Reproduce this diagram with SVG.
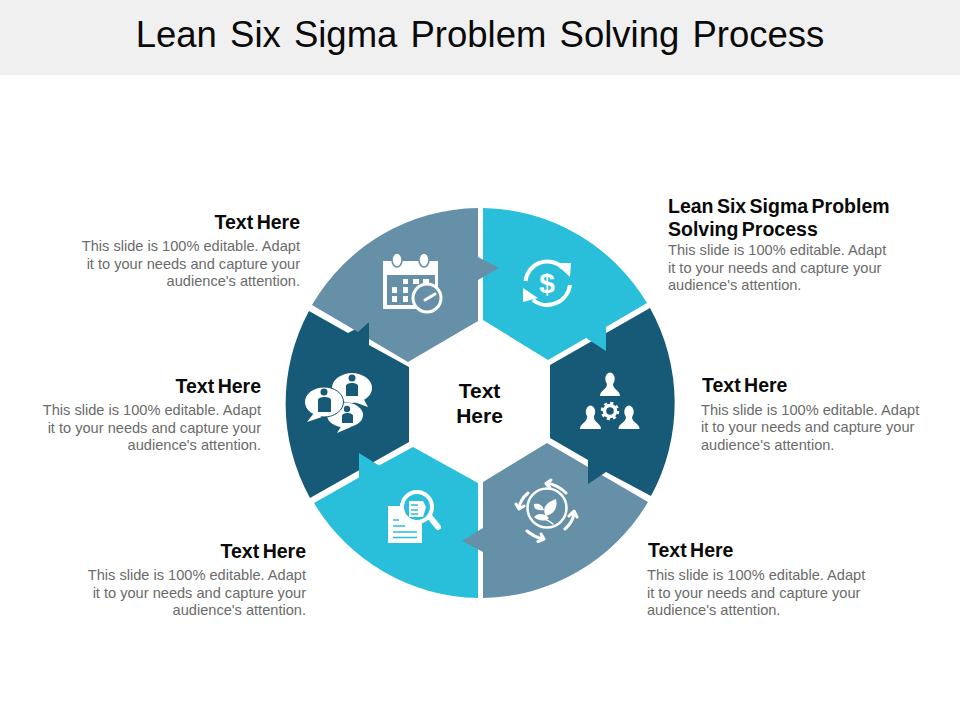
<svg xmlns="http://www.w3.org/2000/svg" width="960" height="720" viewBox="0 0 960 720">
<style>
.f{font-family:"Liberation Sans",Arial,sans-serif}
.h{font:bold 19.5px "Liberation Sans",Arial,sans-serif;fill:#0a0a0a;word-spacing:-2px}
.c{font:bold 21px "Liberation Sans",Arial,sans-serif;fill:#0a0a0a;text-anchor:middle}
.b{font:14.6px "Liberation Sans",Arial,sans-serif;fill:#6b6b6b}
.e{text-anchor:end}
.w{fill:#fff}
.sw{fill:none;stroke:#fff;stroke-width:3;stroke-linecap:round;stroke-linejoin:round}
</style>
<rect width="960" height="75" fill="#f0f0f0"/>
<text x="480" y="47" text-anchor="middle" class="f" font-size="36.500" fill="#0a0a0a" word-spacing="3">Lean Six Sigma Problem Solving Process</text>
<g id="connectors"/>
<g id="node-chat">
<path fill="#175a78" d="M309 311L348 333L369 322V345L409 367V442L310 498A195 195 0 0 1 309 311Z"/>
<ellipse cx="352" cy="388" rx="20" ry="15" class="w"/>
<path class="w" d="M362 396L368 407L354 402Z"/>
<ellipse cx="345" cy="415" rx="18" ry="12.500" class="w"/>
<path class="w" d="M342 425L337 433L351 427Z"/>
<ellipse cx="324" cy="402" rx="19.500" ry="15" class="w" stroke="#175a78" stroke-width="1"/>
<path class="w" d="M314 413L307 422L322 417Z"/>
<circle cx="352" cy="378" r="3.500" fill="#175a78"/>
<path fill="#175a78" d="M346 396V386C346 382 358 382 358 386V396Z"/>
<circle cx="324" cy="392" r="3.500" fill="#175a78"/>
<path fill="#175a78" d="M318 412V400C318 396 331 396 331 400V412Z"/>
<circle cx="347" cy="409" r="3.200" fill="#175a78"/>
<path fill="#175a78" d="M342 423V416C342 412 353 412 353 416V423Z"/>
</g>
<g id="node-doc">
<path fill="#29bfdb" d="M413 447L478 483V598A195 195 0 0 1 314 503L359 477.500V453L379 465.500Z"/>
<path class="w" d="M388 506H402A17 17 0 0 0 422 523V543H388Z"/>
<path stroke="#29bfdb" stroke-width="1.500" d="M393 520H399M393 526H405M393 532H417M393 537.500H417"/>
<circle cx="417" cy="507" r="15" fill="#29bfdb" stroke="#fff" stroke-width="4"/>
<path class="w" d="M409 501H423L426 507L423 517H409Z"/>
<path stroke="#29bfdb" stroke-width="1.500" d="M411 505H418M411 510H418M411 514H418"/>
<path d="M430 517L438 527" stroke="#fff" stroke-width="6" stroke-linecap="round"/>
</g>
<g id="node-leaf">
<path fill="#6690a8" d="M547 443L648 502A195 195 0 0 1 483 598V552L462 541L483 528V482Z"/>
<path fill="#6690a8" d="M470 541L484 530V552Z"/>
<circle cx="547" cy="508" r="19.500" fill="none" stroke="#fff" stroke-width="2.500"/>
<path class="w" d="M546 516C541 508 547 502 556 499C558 508 554 514 546 516ZM544 510C542 504 538 503 534 504C533 509 538 511 544 510ZM534 517C538 513 544 513 549 518C545 522 538 521 534 517Z"/>
<path class="sw" style="stroke-width:1.500" d="M537 518Q546 518 553 524"/>
<path class="sw" d="M566 493Q558 485 547 483M551 480L546 483.500L550 488M565 529Q573 522 574 513M569 516L574 511L577 517M527 531Q534 537 543 539M538 541.500L544 539L541 534M528 493Q520 500 519 508M516 504L519 509L524 506"/>
</g>
<g id="node-team">
<path fill="#175a78" d="M650 308A195 195 0 0 1 651 496L606 472L588 484V460L550 438V365Z"/>
<g class="w">
<ellipse cx="610" cy="379" rx="4.700" ry="6.500"/><path d="M600 396C600 390 607 390 607 384H613C613 390 620 390 620 396Z"/>
<ellipse cx="590.500" cy="412" rx="4.700" ry="6.500"/><path d="M580 429C580 423 587 423 587 417H594C594 423 601 423 601 429Z"/>
<ellipse cx="629" cy="412" rx="4.700" ry="6.500"/><path d="M618.500 429C618.500 423 626 423 626 417H632C632 423 639.500 423 639.500 429Z"/>
</g>
<circle cx="610" cy="411" r="5.500" fill="none" stroke="#fff" stroke-width="3.500"/>
<circle cx="610" cy="411" r="8" fill="none" stroke="#fff" stroke-width="2.500" stroke-dasharray="3.100 3.180"/>
</g>
<g id="node-dollar">
<path fill="#29bfdb" d="M483 208A195 195 0 0 1 647 303L606 327V351L586 338L548 360L483 320Z"/>
<path class="sw" style="stroke-width:4;stroke-linecap:butt" d="M525.500 281A22 22 0 0 1 563 268M570 285A23 23 0 0 1 533 300"/>
<path class="w" d="M555 263L571 263L570 277ZM523 288L523 302L538 298Z"/>
<text x="547" y="293" text-anchor="middle" class="f" font-size="28" font-weight="bold" fill="#fff">$</text>
</g>
<g id="node-calendar">
<path fill="#6690a8" d="M478 208A195 195 0 0 0 312 305L358 332L369 322V339L408 362L478 321V280L499 268L478 257Z"/>
<rect x="383" y="261" width="55" height="48" class="w"/>
<rect x="387" y="275" width="48" height="30" fill="#6690a8"/>
<ellipse cx="397" cy="260" rx="5" ry="7" class="w" stroke="#6690a8" stroke-width="1.500"/>
<ellipse cx="424" cy="260" rx="5" ry="7" class="w" stroke="#6690a8" stroke-width="1.500"/>
<path class="w" d="M403 279h5v5h-5zM413 279h6v5h-6zM423 279h6v4h-6zM392 287h5v6h-5zM403 287h5v6h-5zM392 296h5v6h-5zM403 296h5v6h-5z"/>
<circle cx="427" cy="298" r="14" fill="#6690a8" stroke="#fff" stroke-width="3"/>
<path class="sw" d="M425 300L435 294"/>
</g>
<g id="center"><text x="479.500" y="398" class="c">Text</text><text x="479.500" y="423" class="c">Here</text></g>
<g id="label-1"><text x="300" y="229" class="h e">Text Here</text><text x="300" y="251" class="b e">This slide is 100% editable. Adapt</text><text x="300" y="269" class="b e">it to your needs and capture your</text><text x="300" y="286" class="b e">audience's attention.</text></g>
<g id="label-2"><text x="668" y="213" class="h">Lean Six Sigma Problem</text><text x="668" y="236" class="h">Solving Process</text><text x="668" y="255" class="b">This slide is 100% editable. Adapt</text><text x="668" y="273" class="b">it to your needs and capture your</text><text x="668" y="290" class="b">audience's attention.</text></g>
<g id="label-3"><text x="702" y="392" class="h">Text Here</text><text x="701" y="415" class="b">This slide is 100% editable. Adapt</text><text x="701" y="432" class="b">it to your needs and capture your</text><text x="701" y="450" class="b">audience's attention.</text></g>
<g id="label-4"><text x="648" y="557" class="h">Text Here</text><text x="647" y="580" class="b">This slide is 100% editable. Adapt</text><text x="647" y="598" class="b">it to your needs and capture your</text><text x="647" y="615" class="b">audience's attention.</text></g>
<g id="label-5"><text x="306" y="558" class="h e">Text Here</text><text x="306" y="580" class="b e">This slide is 100% editable. Adapt</text><text x="306" y="598" class="b e">it to your needs and capture your</text><text x="306" y="615" class="b e">audience's attention.</text></g>
<g id="label-6"><text x="261" y="393" class="h e">Text Here</text><text x="261" y="415" class="b e">This slide is 100% editable. Adapt</text><text x="261" y="433" class="b e">it to your needs and capture your</text><text x="261" y="450" class="b e">audience's attention.</text></g>
</svg>
